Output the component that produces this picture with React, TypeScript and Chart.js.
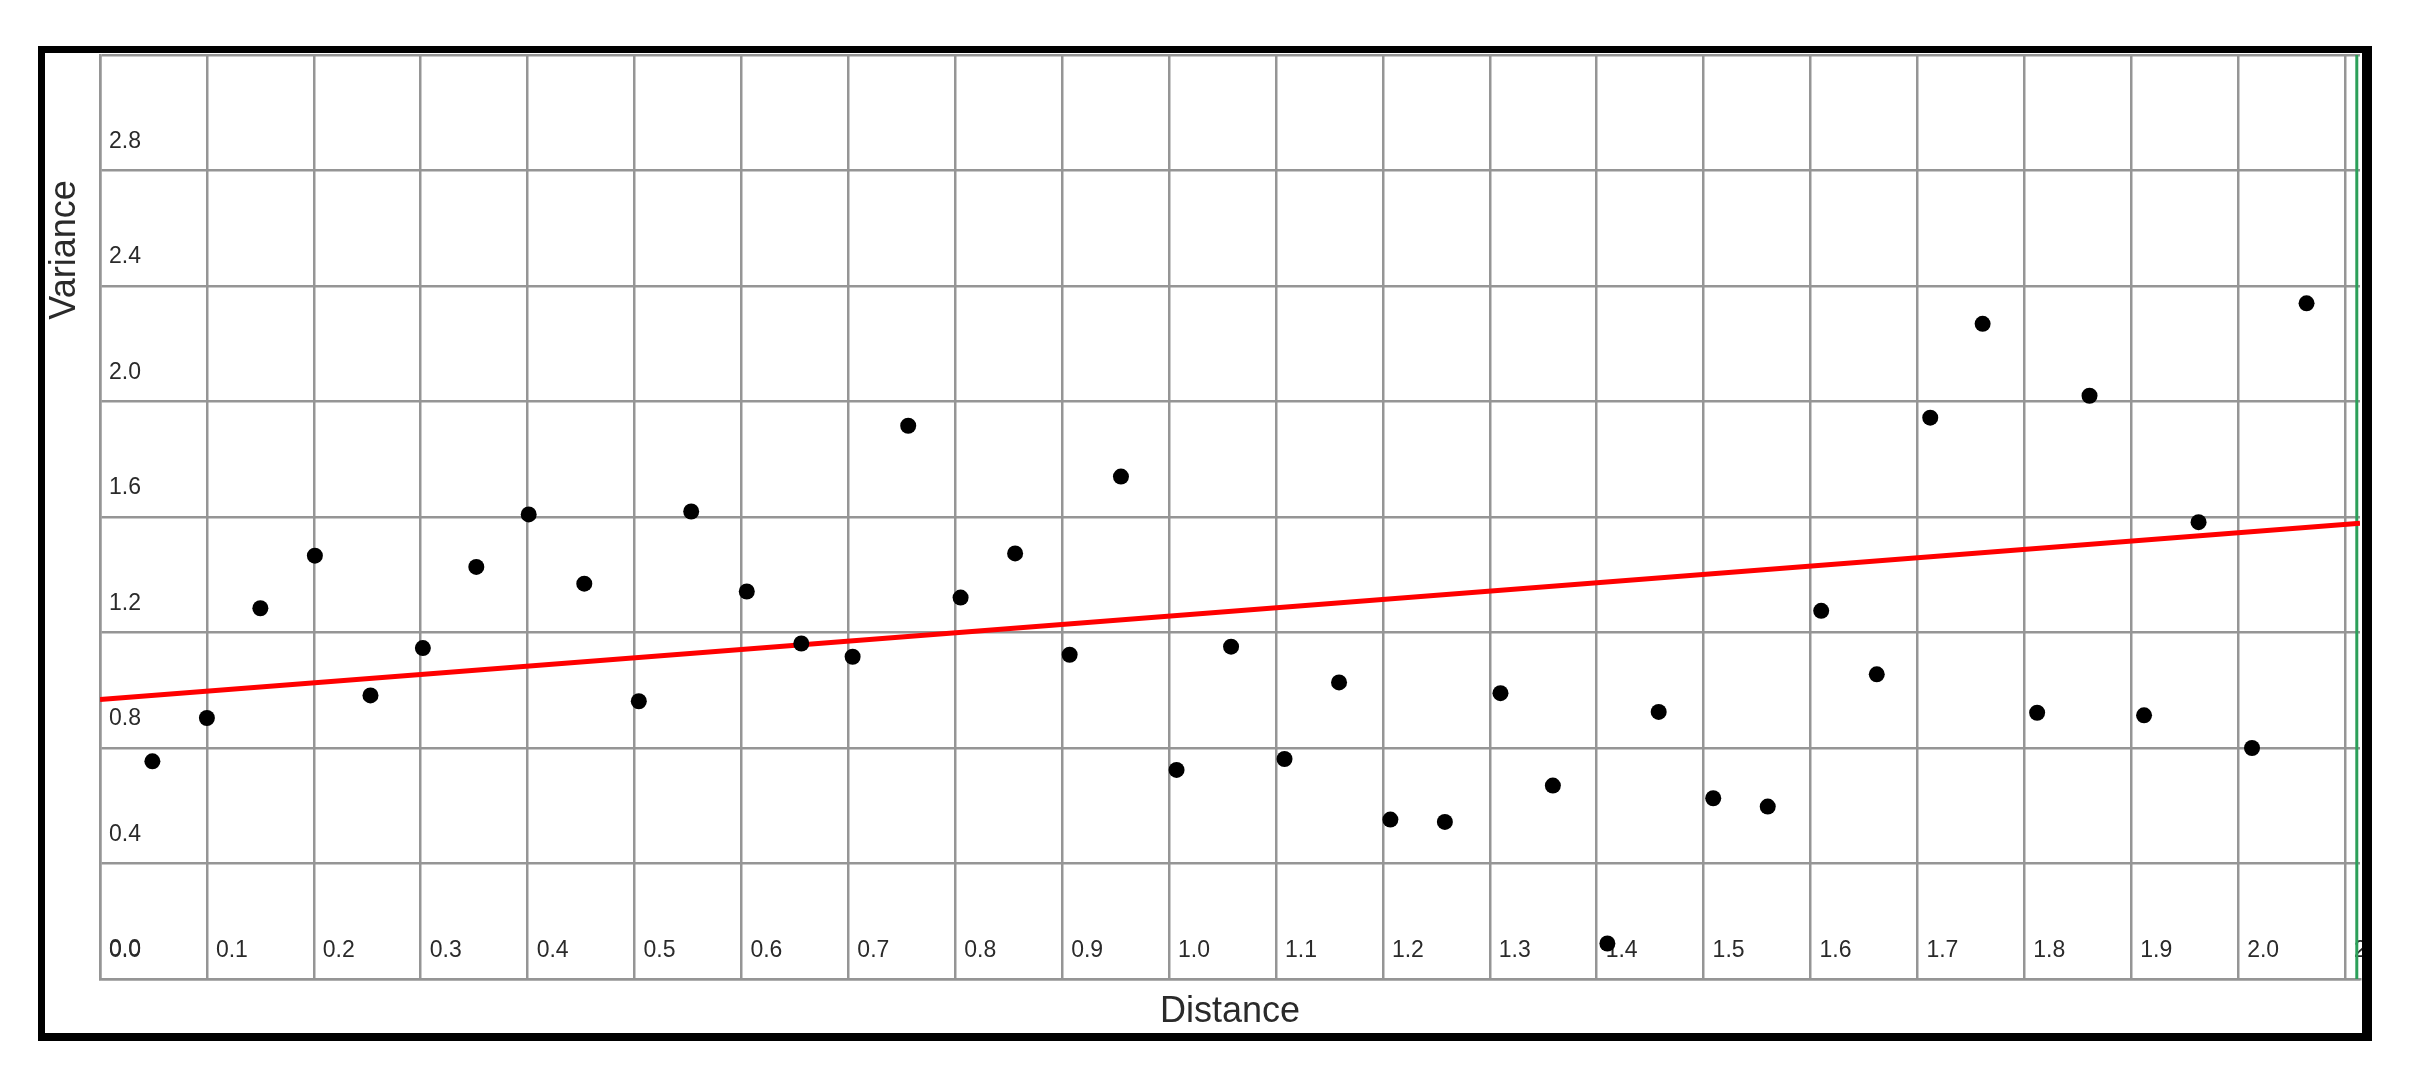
import React, { useEffect, useRef } from "react";
import { Chart, registerables } from "chart.js";

Chart.register(...registerables);

// Lag distances (x) and semivariance values (y)
const lagDistance = [
  0.049, 0.1, 0.15, 0.201, 0.253, 0.302, 0.352, 0.401, 0.453, 0.504,
  0.553, 0.605, 0.656, 0.704, 0.756, 0.805, 0.856, 0.907, 0.955, 1.007,
  1.058, 1.108, 1.159, 1.207, 1.258, 1.31, 1.359, 1.41, 1.458, 1.509,
  1.56, 1.61, 1.662, 1.712, 1.761, 1.812, 1.861, 1.912, 1.963, 2.013, 2.064,
];
const variance = [
  0.754, 0.904, 1.284, 1.466, 0.982, 1.146, 1.427, 1.609, 1.369, 0.962,
  1.619, 1.342, 1.162, 1.116, 1.916, 1.321, 1.474, 1.123, 1.74, 0.724,
  1.151, 0.762, 1.027, 0.552, 0.544, 0.99, 0.67, 0.123, 0.925, 0.626,
  0.597, 1.275, 1.055, 1.944, 2.269, 0.922, 2.02, 0.913, 1.582, 0.8, 2.34,
];

// Fitted trend line end points
const trendX = [0, 2.114];
const trendY = [0.968, 1.578];

// Right boundary marker
const boundaryX = 2.111;

const X_MIN = 0;
const X_MAX = 2.114;
const X_STEP = 0.1;
const Y_MIN = 0;
const Y_MAX = 3.2;
const Y_STEP = 0.4;

const xAxisTitle = "Distance";
const yAxisTitle = "Variance";

const FONT = '"Liberation Sans", Arial, Helvetica, sans-serif';
const GRID = "#959595";
const TEXT = "#2a2a2a";

const resetPadding = (a: any) => {
  a.paddingLeft = 0;
  a.paddingRight = 0;
  a.paddingTop = 0;
  a.paddingBottom = 0;
};

export default function App() {
  const ref = useRef<HTMLCanvasElement>(null);

  useEffect(() => {
    const canvas = ref.current;
    if (!canvas) return;

    const axisTitles = {
      id: "axisTitles",
      afterDraw(chart: any) {
        const { ctx, chartArea } = chart;
        ctx.save();
        ctx.fillStyle = TEXT;
        ctx.font = `36px ${FONT}`;
        ctx.textAlign = "center";
        ctx.textBaseline = "middle";
        ctx.fillText(xAxisTitle, (chartArea.left + chartArea.right) / 2, chartArea.bottom + 33);
        ctx.translate(20, 197);
        ctx.rotate(-Math.PI / 2);
        ctx.fillText(yAxisTitle, 0, 0);
        ctx.restore();
      },
    };

    const chart = new Chart(canvas, {
      type: "scatter",
      data: {
        datasets: [
          {
            data: lagDistance.map((x, i) => ({ x, y: variance[i] })),
            backgroundColor: "#000000",
            borderWidth: 0,
            pointRadius: 8,
            pointHoverRadius: 8,
          },
          {
            type: "line",
            data: trendX.map((x, i) => ({ x, y: trendY[i] })),
            borderColor: "#ff0000",
            borderWidth: 5,
            pointRadius: 0,
            fill: false,
          } as any,
          {
            type: "line",
            data: [
              { x: boundaryX, y: Y_MIN },
              { x: boundaryX, y: Y_MAX },
            ],
            borderColor: "#2ca05a",
            borderWidth: 3,
            pointRadius: 0,
            fill: false,
          } as any,
        ],
      },
      options: {
        responsive: false,
        animation: false,
        devicePixelRatio: 1,
        events: [],
        layout: { autoPadding: false, padding: { left: 55, top: 2, right: 2, bottom: 54 } },
        plugins: {
          legend: { display: false },
          tooltip: { enabled: false },
        },
        scales: {
          x: {
            type: "linear",
            position: "bottom",
            min: X_MIN,
            max: X_MAX,
            grid: { color: GRID, lineWidth: 2.5, drawTicks: false },
            border: { color: GRID, width: 2.5 },
            ticks: {
              stepSize: X_STEP,
              includeBounds: false,
              autoSkip: false,
              maxRotation: 0,
              minRotation: 0,
              align: "start",
              mirror: true,
              labelOffset: 9,
              padding: 15,
              color: TEXT,
              font: { size: 23, family: FONT },
              callback: (v: any) => Number(v).toFixed(1),
            },
            afterFit: (a: any) => {
              a.height = 0;
              resetPadding(a);
            },
          },
          y: {
            type: "linear",
            position: "left",
            min: Y_MIN,
            max: Y_MAX,
            grid: { color: GRID, lineWidth: 2.5, drawTicks: false },
            border: { color: GRID, width: 2.5 },
            ticks: {
              stepSize: Y_STEP,
              autoSkip: false,
              mirror: true,
              padding: 9,
              labelOffset: -29,
              color: TEXT,
              font: { size: 23, family: FONT },
              callback: (v: any) =>
                Math.abs(Number(v) - Y_MAX) < 1e-6 ? "" : Number(v).toFixed(1),
            },
            afterFit: (a: any) => {
              a.width = 0;
              resetPadding(a);
            },
          },
        },
      },
      plugins: [axisTitles],
    } as any);

    return () => chart.destroy();
  }, []);

  return (
    <div
      style={{
        position: "fixed",
        left: 0,
        top: 0,
        width: 2409,
        height: 1078,
        background: "#ffffff",
      }}
    >
      <div
        style={{
          position: "absolute",
          left: 38,
          top: 46,
          width: 2334,
          height: 995,
          boxSizing: "border-box",
          borderStyle: "solid",
          borderColor: "#000000",
          borderWidth: "7px 10px 8px 7px",
          background: "#ffffff",
        }}
      >
        <canvas ref={ref} width={2317} height={980} style={{ display: "block" }} />
      </div>
    </div>
  );
}
